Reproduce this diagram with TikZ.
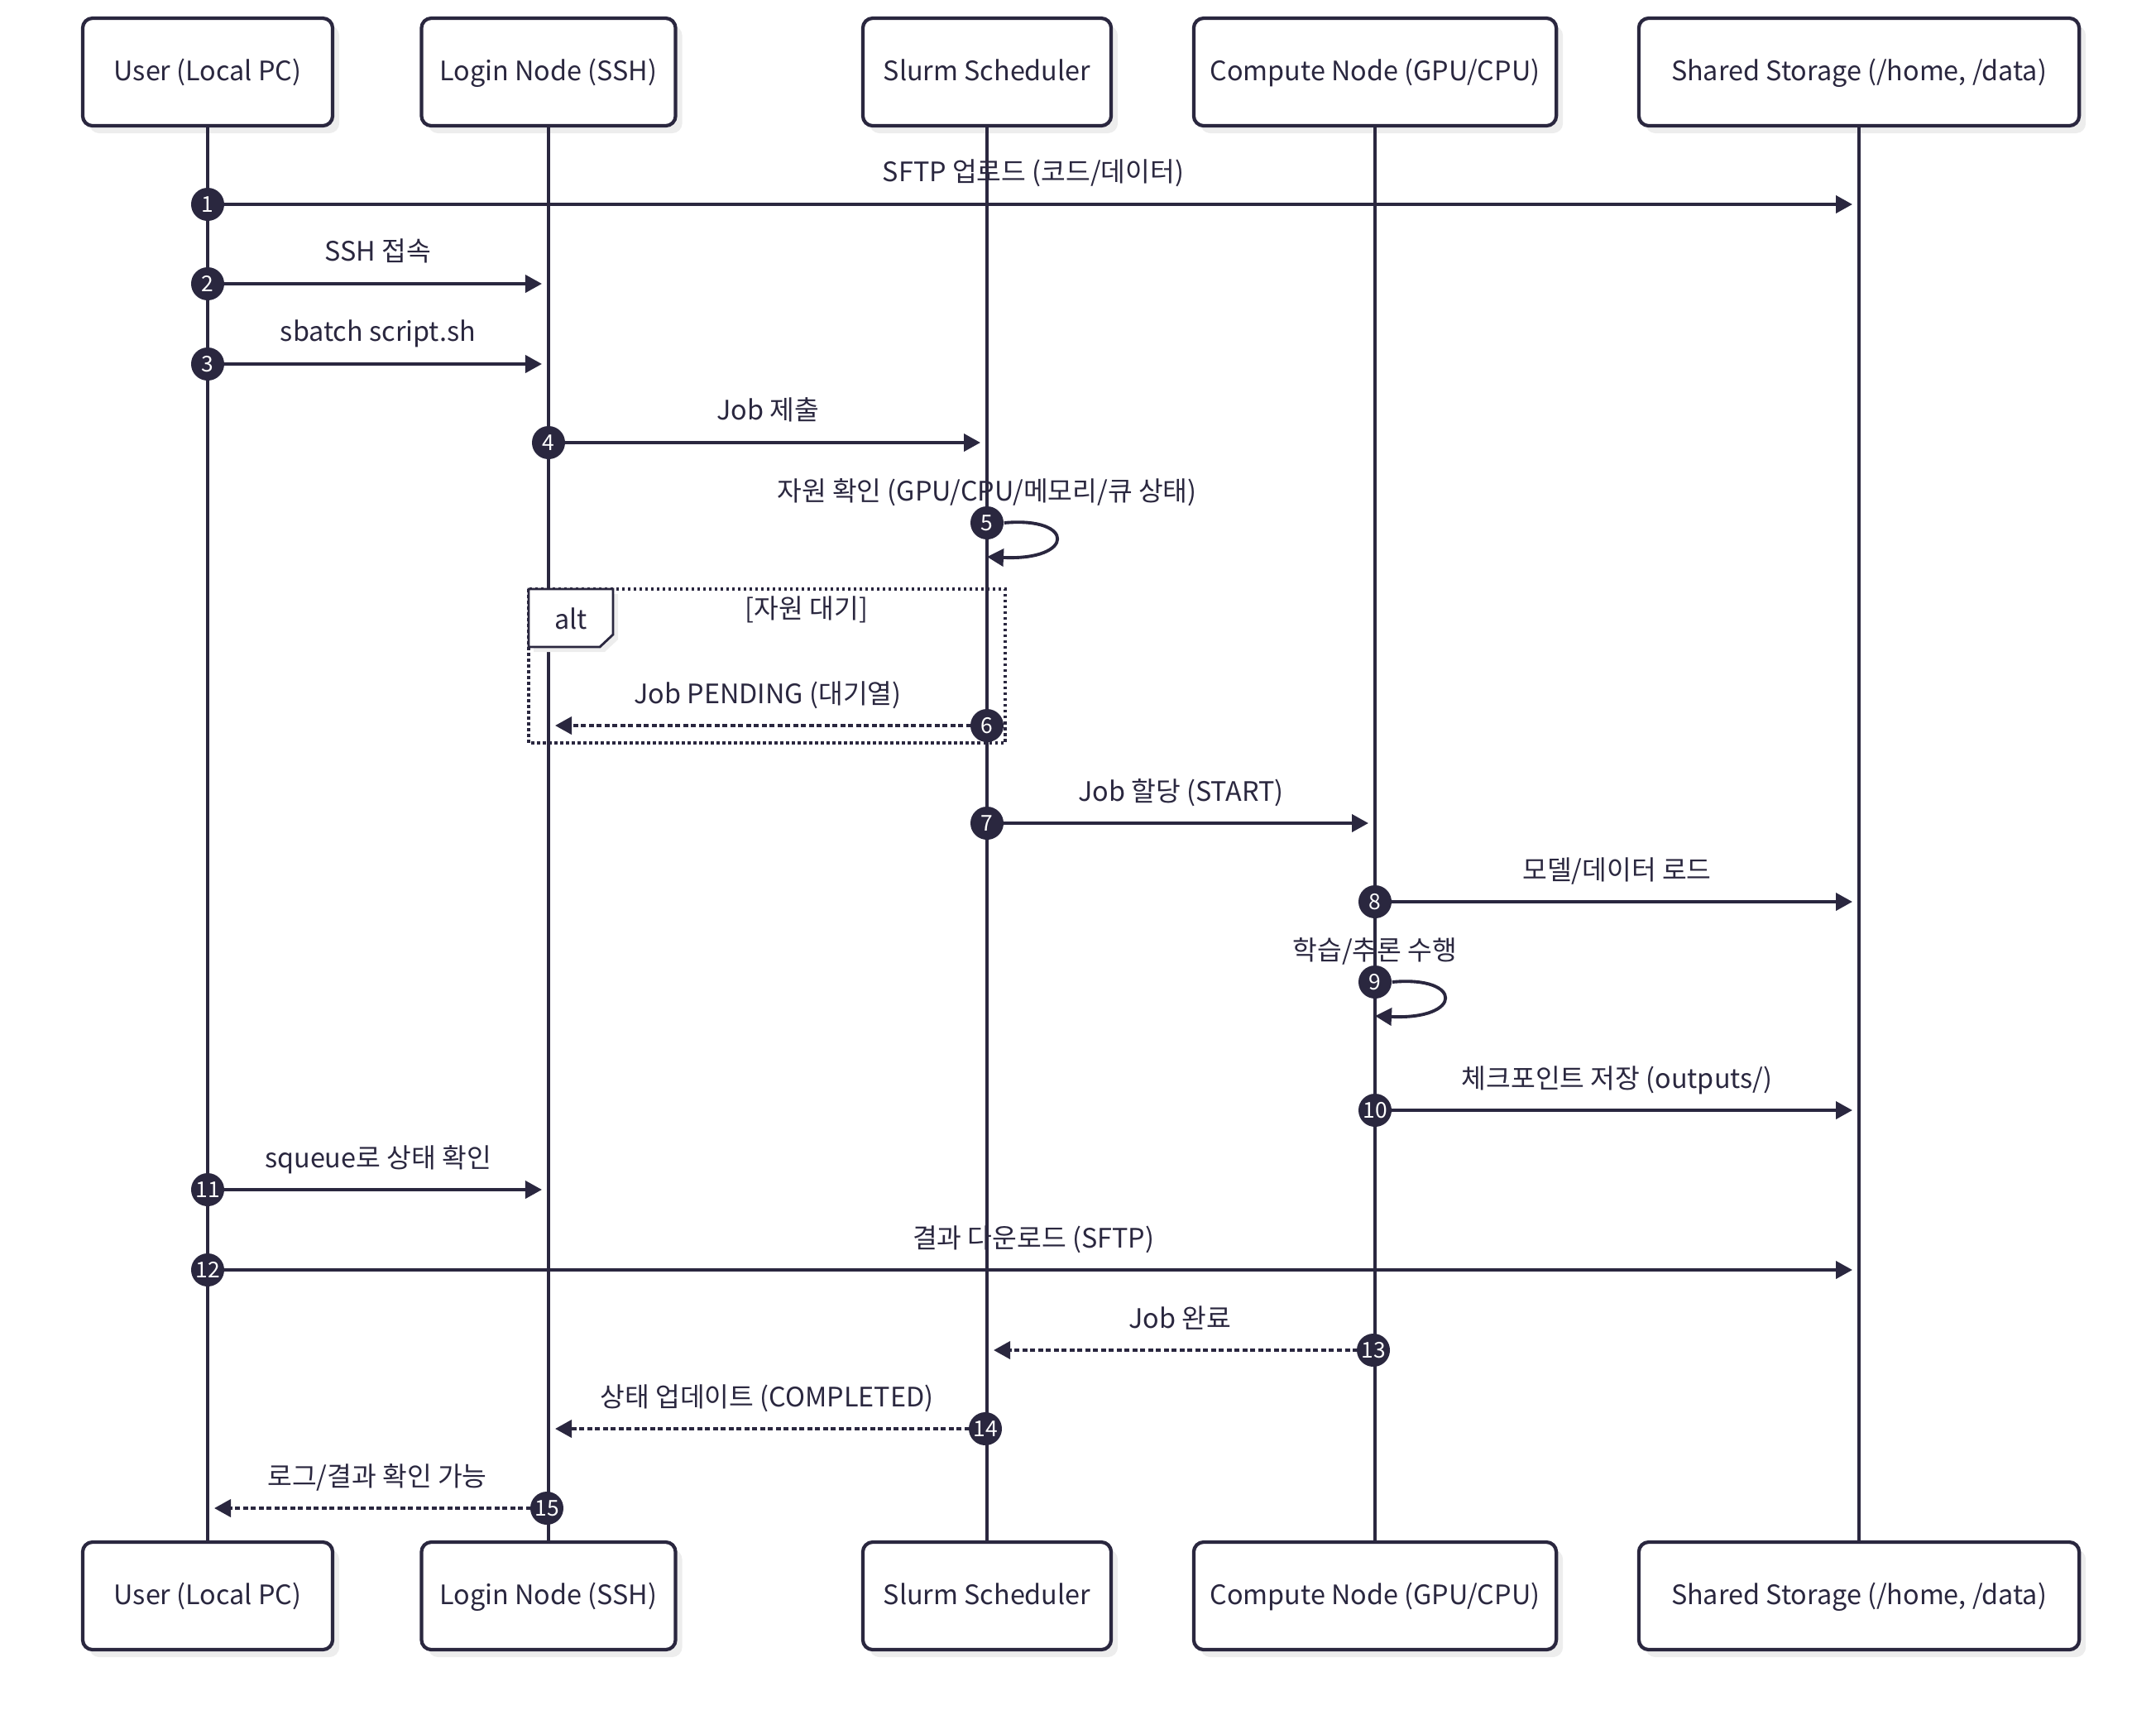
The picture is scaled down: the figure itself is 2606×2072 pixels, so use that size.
\documentclass[tikz,border=0pt]{standalone}
\usepackage{fontspec}
\setmainfont{Noto Sans CJK KR}
\usetikzlibrary{arrows.meta,shadows}
\definecolor{ink}{HTML}{2A273F}
\definecolor{shade}{HTML}{EDEDED}

\begin{document}
\begin{tikzpicture}[x=0.01cm, y=-0.01cm, color=ink, font=\fontsize{9.2}{11}\selectfont,
        actor/.style={draw=ink, line width=1.2pt, rounded corners=0.12cm, fill=white,
                minimum height=1.3cm, inner sep=2pt, text height=0.25cm, text depth=0.05cm,
                drop shadow={shadow xshift=0.08cm, shadow yshift=-0.09cm, fill=shade, opacity=1}},
        lifeline/.style={draw=ink, line width=0.9pt},
        msg/.style={draw=ink, line width=1.1pt, -{Triangle[length=0.2cm,width=0.21cm]}, shorten >=0.08cm},
        reply/.style={msg, dash pattern=on 0.06cm off 0.035cm},
        selfmsg/.style={draw=ink, line width=1.1pt, -{Triangle[length=0.2cm,width=0.21cm]}},
        num/.style={circle, fill=ink, text=white, inner sep=0pt, minimum size=0.4cm,
                font=\fontsize{7.5}{8}\selectfont},
        lbl/.style={text=ink, inner sep=0pt, text height=0.25cm, text depth=0.05cm, yshift=0.37cm}]
        \useasboundingbox (0,0) rectangle (2606,2072);

        % participants
        \begin{scope}[every node/.style={actor}]
                \node[minimum width=3.02cm] (User) at (251,87) {User (Local PC)};
                \node[minimum width=3.07cm] (Login) at (663,87) {Login Node (SSH)};
                \node[minimum width=3.0cm] (Slurm) at (1193,87) {Slurm Scheduler};
                \node[minimum width=4.38cm] (Compute) at (1662,87) {Compute Node (GPU/CPU)};
                \node[minimum width=5.32cm] (Storage) at (2247,87) {Shared Storage (/home, /data)};
                \node[minimum width=3.02cm] (UserB) at (251,1929) {User (Local PC)};
                \node[minimum width=3.07cm] (LoginB) at (663,1929) {Login Node (SSH)};
                \node[minimum width=3.0cm] (SlurmB) at (1193,1929) {Slurm Scheduler};
                \node[minimum width=4.38cm] (ComputeB) at (1662,1929) {Compute Node (GPU/CPU)};
                \node[minimum width=5.32cm] (StorageB) at (2247,1929) {Shared Storage (/home, /data)};
        \end{scope}
        \draw[lifeline] (User) -- (UserB);
        \draw[lifeline] (Login) -- (LoginB);
        \draw[lifeline] (Slurm) -- (SlurmB);
        \draw[lifeline] (Compute) -- (ComputeB);
        \draw[lifeline] (Storage) -- (StorageB);

        % messages
        \coordinate (m1) at (251,247);
        \draw[msg] (m1) -- (m1 -| Storage) node[lbl, midway] {SFTP 업로드 (코드/데이터)};
        \node[num] (n1) at (m1) {1};
        \coordinate (m2) at (251,343);
        \draw[msg] (m2) -- (m2 -| Login) node[lbl, midway] {SSH 접속};
        \node[num] (n2) at (m2) {2};
        \coordinate (m3) at (251,440);
        \draw[msg] (m3) -- (m3 -| Login) node[lbl, midway] {sbatch script.sh};
        \node[num] (n3) at (m3) {3};
        \coordinate (m4) at (663,535);
        \draw[msg] (m4) -- (m4 -| Slurm) node[lbl, midway] {Job 제출};
        \node[num] (n4) at (m4) {4};
        \node[num] (n5) at (1193,632) {5};
        \coordinate (r5) at (1193,673);
        \draw[selfmsg] (n5.east) .. controls (1300,624) and (1300,678) .. (r5);
        \node[lbl] (t5) at (1193,632) {자원 확인 (GPU/CPU/메모리/큐 상태)};

        % alt frame
        \draw[line width=0.9pt, dash pattern=on 0.035cm off 0.035cm] (639,712) rectangle (1215,898);
        \draw[line width=0.8pt, fill=white,
                drop shadow={shadow xshift=0.06cm, shadow yshift=-0.06cm, fill=shade, opacity=1}]
                (639,712) -- (741,712) -- (741,767) -- (725,782) -- (639,782) -- cycle;
        \node (alt) at (690,748) {alt};
        \node (guard) at (975,737) {[자원 대기]};
        \coordinate (m6) at (1193,877);
        \draw[reply] (m6) -- (m6 -| Login) node[lbl, midway] {Job PENDING (대기열)};
        \node[num] (n6) at (m6) {6};

        \coordinate (m7) at (1193,995);
        \draw[msg] (m7) -- (m7 -| Compute) node[lbl, midway] {Job 할당 (START)};
        \node[num] (n7) at (m7) {7};
        \coordinate (m8) at (1662,1090);
        \draw[msg] (m8) -- (m8 -| Storage) node[lbl, midway] {모델/데이터 로드};
        \node[num] (n8) at (m8) {8};
        \node[num] (n9) at (1662,1187) {9};
        \coordinate (r9) at (1662,1228);
        \draw[selfmsg] (n9.east) .. controls (1769,1179) and (1769,1233) .. (r9);
        \node[lbl] (t9) at (1662,1187) {학습/추론 수행};
        \coordinate (m10) at (1662,1342);
        \draw[msg] (m10) -- (m10 -| Storage) node[lbl, midway] {체크포인트 저장 (outputs/)};
        \node[num] (n10) at (m10) {10};
        \coordinate (m11) at (251,1438);
        \draw[msg] (m11) -- (m11 -| Login) node[lbl, midway] {squeue로 상태 확인};
        \node[num] (n11) at (m11) {11};
        \coordinate (m12) at (251,1535);
        \draw[msg] (m12) -- (m12 -| Storage) node[lbl, midway] {결과 다운로드 (SFTP)};
        \node[num] (n12) at (m12) {12};
        \coordinate (m13) at (1660,1632);
        \draw[reply] (m13) -- (m13 -| Slurm) node[lbl, midway] {Job 완료};
        \node[num] (n13) at (m13) {13};
        \coordinate (m14) at (1191,1727);
        \draw[reply] (m14) -- (m14 -| Login) node[lbl, midway] {상태 업데이트 (COMPLETED)};
        \node[num] (n14) at (m14) {14};
        \coordinate (m15) at (661,1823);
        \draw[reply] (m15) -- (m15 -| User) node[lbl, midway] {로그/결과 확인 가능};
        \node[num] (n15) at (m15) {15};
\end{tikzpicture}
\end{document}
